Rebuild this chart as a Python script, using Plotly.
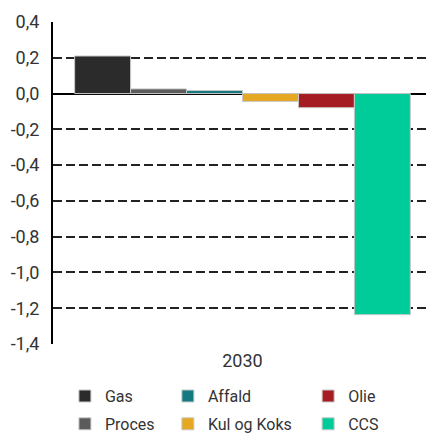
import plotly.graph_objects as go

categories = ["2030"]
series_names = ["Gas", "Proces", "Affald", "Kul og Koks", "Olie", "CCS"]
series_values = [0.21, 0.026, 0.017, -0.044, -0.079, -1.236]
series_colors = ["#2b2b2b", "#5b5b5b", "#137a80", "#e5a823", "#a51d23", "#00cc99"]
legend_slot = ["legend", "legend", "legend2", "legend2", "legend3", "legend3"]
y_ticks = [0.4, 0.2, 0.0, -0.2, -0.4, -0.6, -0.8, -1.0, -1.2, -1.4]

fig = go.Figure()
for name, val, col, lg in zip(series_names, series_values, series_colors, legend_slot):
    fig.add_trace(go.Bar(
        x=categories, y=[val], name=name, legend=lg, legendgroup=name,
        marker=dict(color=col, line=dict(color="#c8c8c8", width=1)),
    ))

font = dict(family="Roboto", size=16, color="#333333")
leg_common = dict(orientation="v", yanchor="top", y=-0.109, xanchor="left",
                  traceorder="grouped", tracegroupgap=4,
                  font=dict(family="Roboto", size=16, color="#333333"),
                  bgcolor="rgba(0,0,0,0)", borderwidth=0, itemclick=False)

fig.update_layout(
    width=426, height=434,
    margin=dict(l=53, r=0, t=22, b=90, autoexpand=False),
    paper_bgcolor="white", plot_bgcolor="white",
    separators=",.",
    barmode="group", bargap=0.1, bargroupgap=0,
    font=font,
    legend=dict(x=0.032, **leg_common),
    legend2=dict(x=0.308, **leg_common),
    legend3=dict(x=0.684, **leg_common),
    xaxis=dict(showline=False, showgrid=False, ticks="", zeroline=False,
               range=[-0.508, 0.492], ticklabelstandoff=4,
               tickfont=dict(family="Roboto", size=18, color="#333333")),
    yaxis=dict(range=[-1.4, 0.4], tickvals=y_ticks,
               ticktext=[f"{v:.1f}".replace(".", ",") for v in y_ticks],
               showline=True, linecolor="black", linewidth=2,
               showgrid=True, gridcolor="#222222", gridwidth=1.5, griddash="9px,4px",
               zeroline=True, zerolinecolor="black", zerolinewidth=2,
               ticks="outside", ticklen=8, tickcolor="rgba(0,0,0,0)",
               tickfont=dict(family="Roboto", size=18, color="#333333")),
)

fig.write_html("out.html", config={"displayModeBar": False},
               post_script="document.body.style.margin='0';")
